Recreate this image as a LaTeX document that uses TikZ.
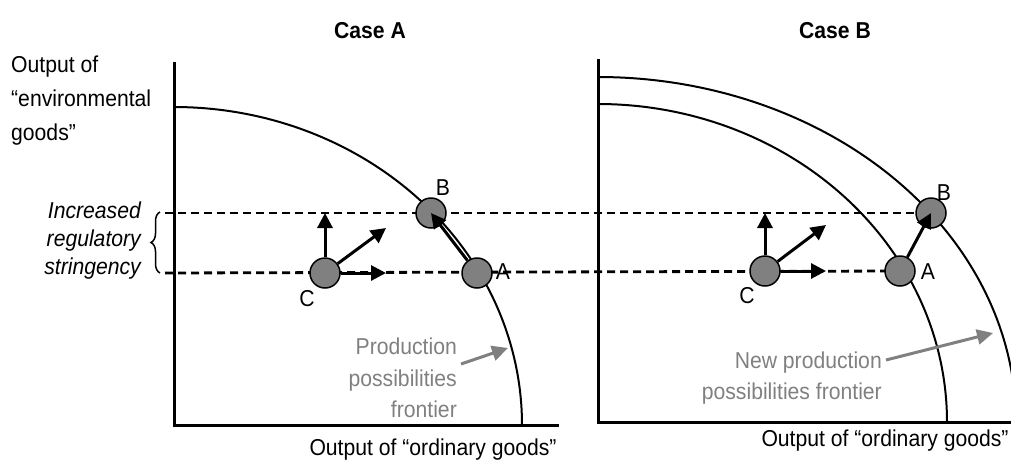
\documentclass[tikz,border=0pt]{standalone}
\usepackage{fontspec}
\setmainfont[FakeStretch=0.92]{Liberation Sans}
\usetikzlibrary{arrows.meta, positioning, decorations.pathreplacing, backgrounds}
\definecolor{dotGray}{RGB}{128,128,128}
\definecolor{noteGray}{RGB}{128,128,128}
\tikzset{
    % Axis & Frontier Styles
    axisLine/.style={line width=3pt, line join=miter},
    frontierLine/.style={line width=2pt},
    levelLine/.style={line width=2.8pt, dash pattern=on 8pt off 5pt},
    braceLine/.style={decorate, decoration={brace, amplitude=9pt}, line width=1.5pt},
    % Point & Arrow Styles
    dotNode/.style={circle, fill=dotGray, draw=black, line width=1.5pt, minimum size=30pt, inner sep=0pt},
    moveArrow/.style={-{Triangle[length=15pt, width=15pt]}, line width=3pt},
    noteArrow/.style={-{Triangle[length=16pt, width=15pt]}, line width=3pt, draw=noteGray},
    % Text Styles
    plainText/.style={font=\fontsize{23}{26}\selectfont, inner sep=0pt},
    noteText/.style={plainText, text=noteGray, align=right, anchor=north east},
    caseTitle/.style={plainText, font=\fontsize{23}{26}\selectfont\bfseries, anchor=base}
}

\begin{document}
\begin{tikzpicture}[x=1pt, y=-1pt]
    \useasboundingbox (0,0) rectangle (1011,464);

    % --- Titles ---
    \node (titleA) [caseTitle] at (370,38) {Case A};
    \node (titleB) [caseTitle] at (835,38) {Case B};

    % --- Axis labels ---
    \node (yLabel) [plainText, font=\fontsize{23}{34}\selectfont, align=left, anchor=north west] at (11,56) {
        Output of \\ ``environmental \\ goods''
    };
    \node (xLabelA) [plainText, anchor=base] at (433,455) {Output of ``ordinary goods''};
    \node (xLabelB) [plainText, anchor=base] at (885,446) {Output of ``ordinary goods''};

    % --- Stringency bracket ---
    \node (stringency) [plainText, font=\fontsize{23}{28}\selectfont\itshape, align=right, anchor=north east] at (141,202) {
        Increased \\ regulatory \\ stringency
    };
    \draw [braceLine] (160,273) -- (160,212);

    % --- CASE A points ---
    \node (ptBL) [dotNode] at (431,213) {};
    \node (ptAL) [dotNode] at (477,273) {};
    \node (ptCL) [dotNode] at (325,273) {};
    \node (labBL) [plainText, anchor=base] at (443,195) {B};
    \node (labAL) [plainText, anchor=base] at (503,279) {A};
    \node (labCL) [plainText, anchor=base] at (307,306) {C};

    % --- CASE B points ---
    \node (ptBR) [dotNode] at (931,213) {};
    \node (ptAR) [dotNode] at (900,271) {};
    \node (ptCR) [dotNode] at (765,271) {};
    \node (labBR) [plainText, anchor=base] at (944,200) {B};
    \node (labAR) [plainText, anchor=base] at (928,279) {A};
    \node (labCR) [plainText, anchor=base] at (747,303) {C};

    % --- Arrow ends ---
    \coordinate (upCL) at (325,213);
    \coordinate (diagCL) at (386,228);
    \coordinate (rightCL) at (386,273);
    \coordinate (upCR) at (765,213);
    \coordinate (diagCR) at (826,225);
    \coordinate (rightCR) at (826,271);
    \coordinate (dashTop) at (165,213);
    \coordinate (dashLow) at (165,273);

    % --- Moves ---
    \draw [moveArrow] (ptCL) -- (upCL);
    \draw [moveArrow] (ptCL) -- (diagCL);
    \draw [moveArrow] (ptCL) -- (rightCL);
    \draw [moveArrow] (ptAL) -- (ptBL.center);
    \draw [moveArrow] (ptCR) -- (upCR);
    \draw [moveArrow] (ptCR) -- (diagCR);
    \draw [moveArrow] (ptCR) -- (rightCR);
    \draw [moveArrow] (ptAR) -- (ptBR.center);

    % --- Frontier notes ---
    \node (noteA) [noteText, font=\fontsize{23}{31.5}\selectfont] at (457,338) {
        Production \\ possibilities \\ frontier
    };
    \node (noteB) [noteText, font=\fontsize{23}{31}\selectfont] at (882,352) {
        New production \\ possibilities frontier
    };
    \coordinate (tailA) at (461,364);
    \coordinate (tipA) at (508,348);
    \coordinate (tailB) at (886,360);
    \coordinate (tipB) at (993,333);
    \draw [noteArrow] (tailA) -- (tipA);
    \draw [noteArrow] (tailB) -- (tipB);

    % --- Background: axes, frontiers, level lines ---
    \begin{scope}[on background layer]
        \draw [levelLine] (dashTop) -- (ptBR.center);
        \draw [levelLine] (dashLow) -- (ptAR.center);

        \draw [frontierLine] plot[domain=0:90, samples=90, smooth] ({174+348*cos(\x)}, {425-318*sin(\x)});
        \draw [frontierLine] plot[domain=0:90, samples=90, smooth] ({598+349*cos(\x)}, {422-318*sin(\x)});
        \draw [frontierLine] plot[domain=0:90, samples=90, smooth] ({598+418*cos(\x)}, {422-345*sin(\x)});

        \draw [axisLine] (174,62) -- (174,425) -- (559,425);
        \draw [axisLine] (598,59) -- (598,422) -- (1011,422);
    \end{scope}

\end{tikzpicture}
\end{document}
